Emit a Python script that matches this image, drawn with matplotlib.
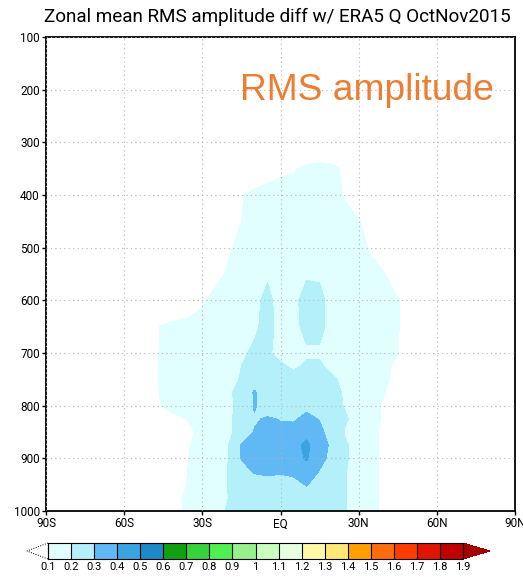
import numpy as np
import matplotlib
matplotlib.use('Agg')
import matplotlib.pyplot as plt
from matplotlib.colors import ListedColormap, BoundaryNorm

# latitude (deg, S negative) and pressure (hPa) of the gridded field
lats = [-55, -50, -45, -40, -35, -30, -25, -20, -15, -10, -5, 0,
        5, 10, 15, 20, 25, 30, 35, 40, 45, 50, 55]
plevs = [300, 350, 400, 450, 500, 550, 600, 650, 700, 725, 750, 775,
         800, 825, 850, 875, 900, 925, 950, 975, 1000]

# zonal mean RMS amplitude diff of Q (one row per level)
rms_300 = [0] * 23
rms_350 = [0, 0, 0, 0, 0, 0, 0, 0, 0, 0.03, 0.06, 0.08, 0.09, 0.12, 0.13, 0.12, 0.08, 0.04, 0, 0, 0, 0, 0]
rms_400 = [0, 0, 0, 0, 0, 0, 0.03, 0.07, 0.095, 0.12, 0.13, 0.14, 0.14, 0.15, 0.15, 0.13, 0.09, 0.05, 0.02, 0, 0, 0, 0]
rms_450 = [0, 0, 0, 0, 0, 0, 0.03, 0.07, 0.1, 0.13, 0.14, 0.15, 0.15, 0.16, 0.16, 0.15, 0.13, 0.105, 0.06, 0.02, 0, 0, 0]
rms_500 = [0, 0, 0, 0, 0, 0.03, 0.06, 0.09, 0.12, 0.14, 0.15, 0.16, 0.16, 0.17, 0.17, 0.16, 0.14, 0.12, 0.09, 0.05, 0.02, 0, 0]
rms_550 = [0, 0, 0, 0, 0.02, 0.05, 0.08, 0.11, 0.14, 0.17, 0.19, 0.17, 0.17, 0.19, 0.19, 0.17, 0.15, 0.13, 0.12, 0.1, 0.06, 0.02, 0]
rms_600 = [0, 0, 0, 0.03, 0.06, 0.09, 0.12, 0.14, 0.16, 0.18, 0.22, 0.17, 0.18, 0.23, 0.22, 0.17, 0.15, 0.14, 0.13, 0.12, 0.105, 0.06, 0.02]
rms_650 = [0, 0.07, 0.11, 0.12, 0.12, 0.13, 0.14, 0.15, 0.17, 0.19, 0.22, 0.18, 0.18, 0.22, 0.22, 0.17, 0.15, 0.14, 0.13, 0.12, 0.105, 0.06, 0.02]
rms_700 = [0, 0.08, 0.11, 0.12, 0.12, 0.13, 0.14, 0.16, 0.19, 0.21, 0.21, 0.18, 0.17, 0.19, 0.19, 0.16, 0.14, 0.13, 0.12, 0.11, 0.102, 0.06, 0.02]
rms_725 = [0, 0.08, 0.11, 0.12, 0.12, 0.13, 0.15, 0.18, 0.2, 0.23, 0.22, 0.21, 0.19, 0.21, 0.21, 0.18, 0.15, 0.13, 0.12, 0.11, 0.09, 0.05, 0]
rms_750 = [0, 0.08, 0.11, 0.12, 0.12, 0.13, 0.15, 0.18, 0.205, 0.25, 0.23, 0.22, 0.22, 0.23, 0.23, 0.21, 0.18, 0.15, 0.13, 0.11, 0.08, 0.03, 0]
rms_775 = [0, 0.08, 0.11, 0.12, 0.13, 0.14, 0.16, 0.19, 0.22, 0.31, 0.24, 0.23, 0.23, 0.24, 0.24, 0.22, 0.19, 0.15, 0.12, 0.102, 0.07, 0.02, 0]
rms_800 = [0, 0.07, 0.105, 0.12, 0.13, 0.15, 0.17, 0.19, 0.215, 0.31, 0.25, 0.25, 0.26, 0.28, 0.27, 0.24, 0.19, 0.15, 0.12, 0.09, 0.05, 0, 0]
rms_825 = [0, 0.04, 0.07, 0.09, 0.105, 0.12, 0.15, 0.18, 0.24, 0.29, 0.31, 0.295, 0.29, 0.32, 0.295, 0.26, 0.21, 0.16, 0.12, 0.09, 0.05, 0, 0]
rms_850 = [0, 0, 0.05, 0.08, 0.09, 0.115, 0.16, 0.18, 0.24, 0.305, 0.33, 0.32, 0.33, 0.37, 0.32, 0.26, 0.19, 0.15, 0.12, 0.08, 0.04, 0, 0]
rms_875 = [0, 0, 0.04, 0.08, 0.098, 0.12, 0.16, 0.2, 0.305, 0.34, 0.35, 0.35, 0.37, 0.42, 0.34, 0.28, 0.21, 0.16, 0.12, 0.08, 0.04, 0, 0]
rms_900 = [0, 0, 0.03, 0.07, 0.102, 0.12, 0.16, 0.2, 0.305, 0.34, 0.35, 0.34, 0.36, 0.41, 0.33, 0.27, 0.21, 0.16, 0.12, 0.08, 0.04, 0, 0]
rms_925 = [0, 0, 0.03, 0.07, 0.104, 0.12, 0.15, 0.205, 0.26, 0.31, 0.32, 0.31, 0.32, 0.36, 0.295, 0.24, 0.205, 0.15, 0.12, 0.08, 0.04, 0, 0]
rms_950 = [0, 0, 0.03, 0.07, 0.11, 0.12, 0.15, 0.205, 0.22, 0.25, 0.26, 0.26, 0.27, 0.305, 0.26, 0.22, 0.205, 0.15, 0.12, 0.08, 0.04, 0, 0]
rms_975 = [0, 0, 0.03, 0.09, 0.11, 0.13, 0.16, 0.2, 0.22, 0.24, 0.24, 0.24, 0.25, 0.26, 0.24, 0.22, 0.205, 0.15, 0.12, 0.08, 0.04, 0, 0]
rms_1000 = [0, 0, 0.03, 0.09, 0.11, 0.13, 0.17, 0.21, 0.22, 0.23, 0.23, 0.23, 0.24, 0.25, 0.23, 0.22, 0.205, 0.15, 0.12, 0.08, 0.04, 0, 0]

# colour scale
levels = [0.1, 0.2, 0.3, 0.4, 0.5, 0.6, 0.7, 0.8, 0.9, 1.0,
          1.1, 1.2, 1.3, 1.4, 1.5, 1.6, 1.7, 1.8, 1.9]
colors = ['#e1ffff', '#b4f0fa', '#60b8f5', '#3aa4e0', '#1e88c8', '#10a010',
          '#37d23c', '#50f050', '#96f08c', '#c8ffbe', '#e6ffe1', '#fffaaa',
          '#ffe878', '#ffa000', '#ff6c10', '#ff3c00', '#e11400', '#c00000']
over_color = '#a50000'

lat_ticks = [-90, -60, -30, 0, 30, 60, 90]
lat_labels = ['90S', '60S', '30S', 'EQ', '30N', '60N', '90N']
p_ticks = [100, 200, 300, 400, 500, 600, 700, 800, 900, 1000]

title = 'Zonal mean RMS amplitude diff w/ ERA5 Q OctNov2015'
narrow = ['Roboto', 'DejaVu Sans']


def draw():
    field = np.array([rms_300, rms_350, rms_400, rms_450, rms_500, rms_550,
                      rms_600, rms_650, rms_700, rms_725, rms_750, rms_775,
                      rms_800, rms_825, rms_850, rms_875, rms_900, rms_925,
                      rms_950, rms_975, rms_1000])

    cmap = ListedColormap(colors)
    cmap.set_under('white')
    cmap.set_over(over_color)
    norm = BoundaryNorm(levels, cmap.N)

    fig = plt.figure(figsize=(5.23, 5.78), dpi=100)
    ax = fig.add_axes([46 / 523, 1 - 511 / 578, 469 / 523, 474 / 578])

    cs = ax.contourf(lats, plevs, field, levels=levels, cmap=cmap, norm=norm,
                     extend='both')

    ax.set_xlim(-90, 90)
    ax.set_ylim(1000, 100)
    ax.set_xticks(lat_ticks)
    ax.set_xticklabels(lat_labels, family=narrow, fontsize=8.5)
    ax.set_yticks(p_ticks)
    ax.set_yticklabels([str(p) for p in p_ticks], family=narrow, fontsize=8.5)
    ax.tick_params(direction='out', length=3, width=1, pad=1.5)
    ax.grid(True, color='#b4b4b4', linestyle=(0, (1, 3)), linewidth=0.8)
    ax.set_axisbelow(False)
    for sp in ax.spines.values():
        sp.set_linewidth(1.3)

    fig.text(277 / 523, 1 - 17 / 578, title, family=narrow, fontsize=13.6,
             ha='center', va='center')
    fig.text(240 / 523, 1 - 100 / 578, 'RMS amplitude', family='Liberation Sans',
             fontsize=26.7, color='#ed7d31', ha='left', va='baseline')

    # colour bar with the "below" triangle left white and dashed
    cax = fig.add_axes([27 / 523, 1 - 559 / 578, 463 / 523, 16 / 578])
    ef = [0.0506, 0.065]
    cb = fig.colorbar(cs, cax=cax, orientation='horizontal', extendfrac=ef,
                      drawedges=True, ticks=levels)
    cb.dividers.set_linewidth(0.8)
    cb.outline.set_visible(False)
    cb.set_ticklabels(['%g' % v for v in levels])
    for lab in cax.get_xticklabels():
        lab.set_family(narrow)
        lab.set_fontsize(8)
    cax.tick_params(length=0, pad=2)
    cax.plot([0, 1, 1, 0, 0], [0, 0, 1, 1, 0], color='black', lw=0.8,
             transform=cax.transAxes, clip_on=False)
    cax.plot([0, -ef[0], 0], [1, 0.5, 0], color='black', lw=0.7,
             linestyle=(0, (1, 1.5)), transform=cax.transAxes, clip_on=False)

    fig.savefig('out.png', dpi=100)


if __name__ == '__main__':
    draw()
